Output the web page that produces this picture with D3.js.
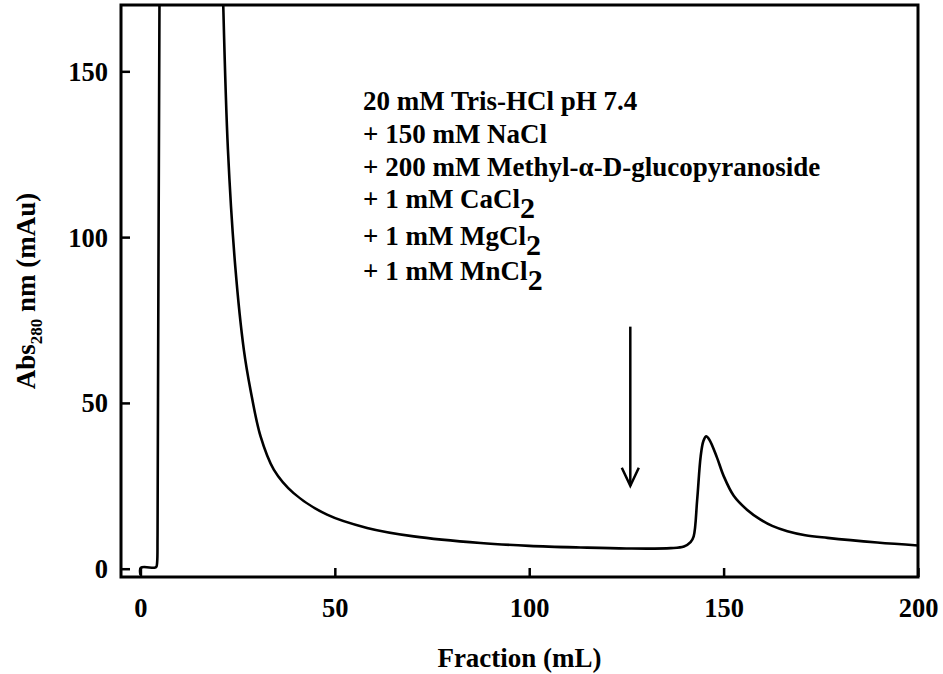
<!DOCTYPE html>
<html>
<head>
<meta charset="utf-8">
<script src="https://cdn.jsdelivr.net/npm/d3@7"></script>
<style>
  html, body { margin: 0; padding: 0; background: #fff; }
  svg { display: block; font-family: "Liberation Serif", "Times New Roman", serif; font-weight: bold; }
</style>
</head>
<body>
<svg id="chart" width="943" height="674"></svg>
<script>
// ---- data ----
const fraction = [0, 0.1, 3.6, 4.1, 4.3, 4.4, 4.9, 5.2, 20.8, 21.3, 22.5, 24.4, 26.6, 28.3, 30.9, 34.3, 39.4, 48, 58.3, 70.3, 87.5, 100, 113.2, 125, 136.4, 139.8, 141.5, 142.3, 143.2, 144.1, 144.8, 145.5, 146.3, 148.3, 150, 152.6, 156, 159.5, 162.5, 166.4, 171, 176.7, 189.5, 200];
const absorbance = [-1.8, 0.3, 0.3, 0.6, 2, 10, 172, 200, 200, 170, 126.5, 91, 66, 54, 39.9, 29.9, 22.8, 16.3, 12.3, 9.75, 7.75, 6.9, 6.4, 6.1, 6.2, 6.7, 8, 9.75, 20.8, 33.9, 38.5, 39.9, 39, 33.5, 28, 22, 17.8, 14.8, 12.9, 11.3, 10.1, 9.3, 7.9, 7.0];
const xTicks = [0, 50, 100, 150, 200];
const yTicks = [0, 50, 100, 150];
const xDomain = [-5, 200];
const yDomain = [-2.5, 170];
const arrowX = [126];
const arrowY = [73, 25];  // top, tip
const bufferLines = ["20 mM Tris-HCl pH 7.4", "+ 150 mM NaCl", "+ 200 mM Methyl-\u03B1-D-glucopyranoside", "+ 1 mM CaCl", "+ 1 mM MgCl", "+ 1 mM MnCl"];
const bufferSubs = ["", "", "", "2", "2", "2"];
const xTitle = "Fraction (mL)";
const yTitleMain = ["Abs", "280", " nm (mAu)"];

// ---- layout ----
const W = 943, H = 674;
const margin = {left: 121, top: 5, right: 25, bottom: 97};
const iw = W - margin.left - margin.right;
const ih = H - margin.top - margin.bottom;

const svg = d3.select("#chart");
const g = svg.append("g").attr("transform", `translate(${margin.left},${margin.top})`);

const x = d3.scaleLinear().domain(xDomain).range([0, iw]);
const y = d3.scaleLinear().domain(yDomain).range([ih, 0]);

svg.append("defs").append("clipPath").attr("id", "clip")
  .append("rect").attr("x", 0).attr("y", 0).attr("width", iw).attr("height", ih);

// axes (inward ticks)
const xAxis = d3.axisBottom(x).tickValues(xTicks).tickSize(-9).tickPadding(22).tickFormat(d3.format("d"));
const yAxis = d3.axisLeft(y).tickValues(yTicks).tickSize(-9).tickPadding(22).tickFormat(d3.format("d"));

const gx = g.append("g").attr("transform", `translate(0,${ih})`).call(xAxis);
const gy = g.append("g").call(yAxis);
[gx, gy].forEach(a => {
  a.select(".domain").remove();
  a.selectAll(".tick line").attr("stroke", "#000").attr("stroke-width", 2.5);
  a.selectAll(".tick text").attr("fill", "#000").style("font-size", "26.5px").style("font-family", "Liberation Serif, serif").style("font-weight", "bold");
});
gx.selectAll(".tick text").attr("y", 0).attr("dy", 0).attr("transform", "translate(0,40)");
gy.selectAll(".tick text").attr("x", -13).attr("dy", "0.34em");

// data line
const pts = fraction.map((f, i) => [f, absorbance[i]]);
const line = d3.line().x(d => x(d[0])).y(d => y(d[1])).curve(d3.curveCatmullRom.alpha(0.5));
g.append("path").datum(pts)
  .attr("clip-path", "url(#clip)")
  .attr("fill", "none").attr("stroke", "#000").attr("stroke-width", 2.6)
  .attr("stroke-linejoin", "round")
  .attr("d", line);

// frame
g.append("rect").attr("x", 0).attr("y", 0).attr("width", iw).attr("height", ih)
  .attr("fill", "none").attr("stroke", "#000").attr("stroke-width", 3);

// arrow
const ax = x(arrowX[0]), ay0 = y(arrowY[0]), ay1 = y(arrowY[1]);
g.append("line").attr("x1", ax).attr("x2", ax).attr("y1", ay0).attr("y2", ay1)
  .attr("stroke", "#000").attr("stroke-width", 2.5);
g.append("path")
  .attr("d", `M${ax - 8.5},${ay1 - 18}L${ax},${ay1}L${ax + 8.5},${ay1 - 18}`)
  .attr("fill", "none").attr("stroke", "#000").attr("stroke-width", 2.5);

// buffer annotation
const lineBase = [110, 143, 176, 208, 245, 280];
const ann = svg.append("g");
bufferLines.forEach((t, i) => {
  const tx = ann.append("text").attr("x", 363).attr("y", lineBase[i])
    .style("font-size", "27px").attr("fill", "#000");
  tx.append("tspan").text(t);
  if (bufferSubs[i]) {
    tx.append("tspan").text(bufferSubs[i]).style("font-size", "30px").attr("dy", 10);
  }
});

// axis titles
svg.append("text").attr("x", margin.left + iw / 2).attr("y", 667)
  .attr("text-anchor", "middle").style("font-size", "27px").attr("fill", "#000")
  .text(xTitle);

const yt = svg.append("text")
  .attr("transform", `translate(35,${margin.top + ih / 2}) rotate(-90)`)
  .attr("text-anchor", "middle").style("font-size", "27px").attr("fill", "#000");
yt.append("tspan").text(yTitleMain[0]);
yt.append("tspan").text(yTitleMain[1]).style("font-size", "17px").attr("dy", 7);
yt.append("tspan").text(yTitleMain[2]).attr("dy", -7);
</script>
</body>
</html>
